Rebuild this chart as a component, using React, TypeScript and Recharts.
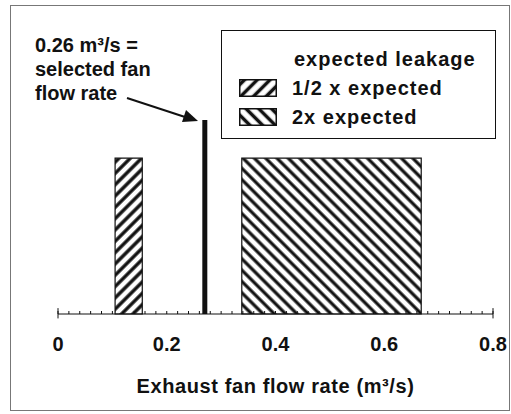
import React from "react";
import { ComposedChart, XAxis, YAxis, ReferenceArea, ReferenceLine } from "recharts";

document.body.style.margin = "0";

// flow-rate ranges (m3/s) for each leakage case
const seriesNames = ["1/2 x expected", "2x expected"];
const rangeLow = [0.105, 0.338];
const rangeHigh = [0.155, 0.668];
const rangeHeight = [53, 53];
const hatchIds = ["hatchUp", "hatchDown"];

const selectedFlow = 0.27;
const selectedHeight = 66;

const xTicks = [0, 0.2, 0.4, 0.6, 0.8];
const minorTicks = Array.from({ length: 41 }, (_, i) => Math.round(i * 2) / 100);
const axisEnds = [0, 0.8];

const annotation = ["0.26 m\u00b3/s =", "selected fan", "flow rate"];
const legendTitle = "expected leakage";

const FONT = '"Liberation Sans", Arial, Helvetica, sans-serif';
const INK = "#111";

const AxisTitle = (props: any) => {
  const vb = props.viewBox || { x: 0, y: 0, width: 0 };
  return (
    <text
      x={vb.x + vb.width / 2}
      y={vb.y + 79}
      textAnchor="middle"
      fill={INK}
      fontSize={20}
      fontWeight={700}
      letterSpacing={0.6}
      fontFamily={FONT}
    >
      Exhaust fan flow rate (m³/s)
    </text>
  );
};

const Swatch = ({ dir, id }: { dir: number; id: string }) => (
  <svg width={38} height={18} style={{ display: "block" }}>
    <defs>
      <pattern id={id} patternUnits="userSpaceOnUse" width={9} height={9} patternTransform={`rotate(${dir})`}>
        <rect width={9} height={9} fill="#fff" />
        <line x1={4.5} y1={0} x2={4.5} y2={9} stroke={INK} strokeWidth={3.5} />
      </pattern>
    </defs>
    <rect x={0.75} y={0.75} width={36.5} height={16.5} fill={`url(#${id})`} stroke={INK} strokeWidth={1.5} />
  </svg>
);

export default function App() {
  return (
    <div style={{ position: "relative", width: 511, height: 414, background: "#fff", fontFamily: FONT }}>
      <ComposedChart
        width={511}
        height={414}
        data={rangeLow.map((v, i) => ({ x: v, y: rangeHeight[i] }))}
        margin={{ top: 20, right: 18, left: 58, bottom: 41 }}
      >
        <defs>
          <pattern id="hatchUp" patternUnits="userSpaceOnUse" width={8} height={8} patternTransform="rotate(45)">
            <rect width={8} height={8} fill="#fff" />
            <line x1={4} y1={0} x2={4} y2={8} stroke={INK} strokeWidth={3.4} />
          </pattern>
          <pattern id="hatchDown" patternUnits="userSpaceOnUse" width={8} height={8} patternTransform="rotate(-45)">
            <rect width={8} height={8} fill="#fff" />
            <line x1={4} y1={0} x2={4} y2={8} stroke={INK} strokeWidth={3.2} />
          </pattern>
        </defs>
        <XAxis
          xAxisId="minor"
          type="number"
          dataKey="x"
          domain={[0, 0.8]}
          allowDataOverflow
          ticks={minorTicks}
          interval={0}
          mirror
          tick={{ fontSize: 0 }}
          tickFormatter={() => ""}
          tickSize={3}
          height={1}
          axisLine={{ stroke: INK, strokeWidth: 1 }}
          tickLine={{ stroke: INK, strokeWidth: 1 }}
        />
        <XAxis
          type="number"
          dataKey="x"
          domain={[0, 0.8]}
          allowDataOverflow
          ticks={xTicks}
          interval={0}
          axisLine={false}
          tickLine={false}
          height={59}
          tickMargin={17}
          tickFormatter={(v: number) => String(v)}
          tick={{ fill: INK, fontSize: 20, fontWeight: 700, fontFamily: FONT }}
          label={{ content: AxisTitle }}
        />
        <YAxis hide type="number" dataKey="y" domain={[0, 100]} allowDataOverflow />
        {axisEnds.map((v) => (
          <ReferenceLine
            key={`end-${v}`}
            segment={[{ x: v, y: -1.5 }, { x: v, y: 2 }]}
            stroke={INK}
            strokeWidth={1}
            ifOverflow="visible"
          />
        ))}
        {seriesNames.map((name, i) => (
          <ReferenceArea
            key={name}
            x1={rangeLow[i]}
            x2={rangeHigh[i]}
            y1={0}
            y2={rangeHeight[i]}
            fill={`url(#${hatchIds[i]})`}
            fillOpacity={1}
            stroke={INK}
            strokeWidth={1.2}
            ifOverflow="visible"
          />
        ))}
        <ReferenceLine
          segment={[{ x: selectedFlow, y: 0 }, { x: selectedFlow, y: selectedHeight }]}
          stroke={INK}
          strokeWidth={5}
          ifOverflow="visible"
        />
      </ComposedChart>

      {/* outer frame + arrow */}
      <svg width={511} height={414} style={{ position: "absolute", left: 0, top: 0, pointerEvents: "none" }}>
        <rect x={10.5} y={5.5} width={499} height={405} fill="none" stroke="#777" strokeWidth={1} />
        <line x1={127} y1={98} x2={185} y2={117} stroke={INK} strokeWidth={2} />
        <polygon points="198,121 182,122 186,110" fill={INK} />
      </svg>

      {/* annotation */}
      <div
        style={{
          position: "absolute",
          left: 35,
          top: 33,
          fontSize: 20,
          fontWeight: 700,
          lineHeight: "24px",
          color: INK,
          whiteSpace: "nowrap",
        }}
      >
        {annotation.map((t) => (
          <div key={t}>{t}</div>
        ))}
      </div>

      {/* legend */}
      <div
        style={{
          position: "absolute",
          left: 221,
          top: 30,
          width: 273,
          height: 107,
          border: `1.5px solid ${INK}`,
          color: INK,
          fontSize: 20,
          fontWeight: 700,
          letterSpacing: 1,
          whiteSpace: "nowrap",
        }}
      >
        <div style={{ position: "absolute", left: 72, top: 16, lineHeight: "24px" }}>{legendTitle}</div>
        {seriesNames.map((name, i) => (
          <div key={name} style={{ position: "absolute", left: 17, top: 45 + i * 29, display: "flex", alignItems: "center" }}>
            <Swatch dir={i === 0 ? 45 : -45} id={`leg-${hatchIds[i]}`} />
            <span style={{ marginLeft: 15, lineHeight: "24px" }}>{name}</span>
          </div>
        ))}
      </div>
    </div>
  );
}
